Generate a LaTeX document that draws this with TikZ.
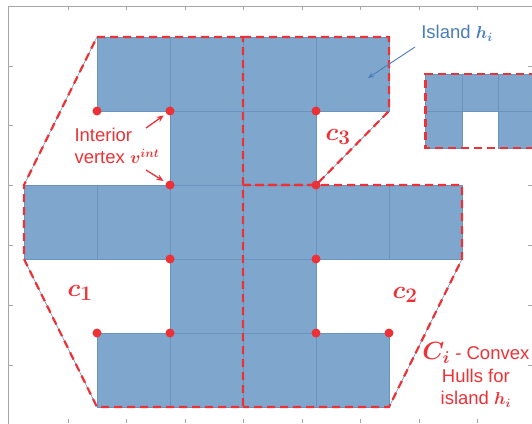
\documentclass[tikz,border=0pt]{standalone}
\usepackage{fontspec}
\setmainfont{Liberation Sans}
\usetikzlibrary{arrows.meta}
\definecolor{cellblue}{HTML}{7FA6CD}
\definecolor{cellline}{HTML}{6A93BF}
\definecolor{hullred}{HTML}{EC3237}
\definecolor{labelblue}{HTML}{4A7EBB}
\definecolor{axisgray}{HTML}{A6A6A6}

\begin{document}
\begin{tikzpicture}[x=73pt,y=-74pt,
 cell/.style={fill=cellblue,draw=cellline,line width=0.6pt},
 hull/.style={draw=hullred,line width=2.2pt,dash pattern=on 8pt off 5pt},
 hullthin/.style={draw=cellline,line width=0.6pt},
 vtx/.style={circle,fill=hullred,inner sep=0pt,minimum size=9pt},
 redlbl/.style={text=hullred,font=\fontsize{18.5}{22.5}\selectfont\boldmath},
 hlbl/.style={text=hullred,font=\fontsize{30}{32}\selectfont\boldmath},
 arr/.style={-{Stealth[length=7pt,width=6pt]},line width=1.3pt},
 frame/.style={draw=axisgray,line width=1pt}]
\useasboundingbox (-0.3288,-0.5) rectangle (6.9589,5.2162);
% plot frame and ticks
\draw[frame] (-0.2055,5.3) -- (-0.2055,-0.4189) -- (7.1,-0.4189);
\foreach \k in {0,...,7} {
 \draw[frame] ({(68+58.5*\k-24)/73},-0.4189) -- ++(0,0.054);
 \draw[frame] ({(68+58.5*\k-24)/73},5.2162) -- ++(0,-0.054);
}
\foreach \k in {0,...,5} {
 \draw[frame] (-0.2055,{(66+59.8*\k-37)/74}) -- ++(0.055,0);
 \draw[frame] (6.9589,{(66+59.8*\k-37)/74}) -- ++(-0.055,0);
}
% island cells
\foreach \y/\xs in {0/{1,2,3,4},1/{2,3},2/{0,1,2,3,4,5},3/{2,3},4/{1,2,3,4}}
 \foreach \x in \xs
  \draw[cell] (\x,\y) rectangle ++(1,1);
\foreach \x/\y in {5.5/0.5,6/0.5,6.5/0.5,5.5/1,6.5/1}
 \draw[cell] (\x,\y) rectangle ++(0.5,0.5);
% convex hulls
\draw[hullthin] (1,0) -- (0,2) (0,3) -- (1,5) (5,1) -- (4,2) (6,3) -- (5,5);
\draw[hull] (1,0) -- (3,0) -- (3,5) -- (1,5) -- (0,3) -- (0,2) -- cycle;
\draw[hull] (3,0) -- (5,0) -- (5,1) -- (4,2) -- (3,2);
\draw[hull] (3,2) -- (6,2) -- (6,3) -- (5,5) -- (3,5);
\draw[hull] (7.2,0.5) -- (5.5,0.5) -- (5.5,1.5) -- (7.2,1.5);
% vertices
\foreach \x/\y [count=\i] in {1/1,2/1,4/1,2/2,4/2,2/3,4/3,1/4,2/4,4/4,5/4}
 \node[vtx] (v\i) at (\x,\y) {};
% labels
\node[redlbl,align=left,anchor=west] (interior) at (0.644,1.473)
 {Interior\\vertex $v^{int}$};
\coordinate (tailA) at (1.671,1.230);
\coordinate (tailB) at (1.671,1.797);
\draw[arr,hullred,shorten >=3pt] (tailA) -- (v2);
\draw[arr,hullred,shorten >=3pt] (tailB) -- (v4);
\node[text=labelblue,font=\fontsize{18.5}{22}\selectfont\boldmath] (island) at (5.932,-0.054)
 {Island $h_i$};
\coordinate (tailC) at (5.356,0.135);
\coordinate (cellpt) at (4.712,0.554);
\draw[-{Stealth[length=6pt,width=5pt]},line width=0.9pt,labelblue] (tailC) -- (cellpt);
\node[hlbl] (c1) at (0.767,3.459) {$c_1$};
\node[hlbl] (c2) at (5.219,3.486) {$c_2$};
\node[hlbl] (c3) at (4.301,1.351) {$c_3$};
\node[redlbl,align=center] (hulls) at (6.19,4.568)
 {{\fontsize{23}{22.5}\selectfont$C_i$} - Convex\\Hulls for\\island $h_i$};
\end{tikzpicture}
\end{document}
